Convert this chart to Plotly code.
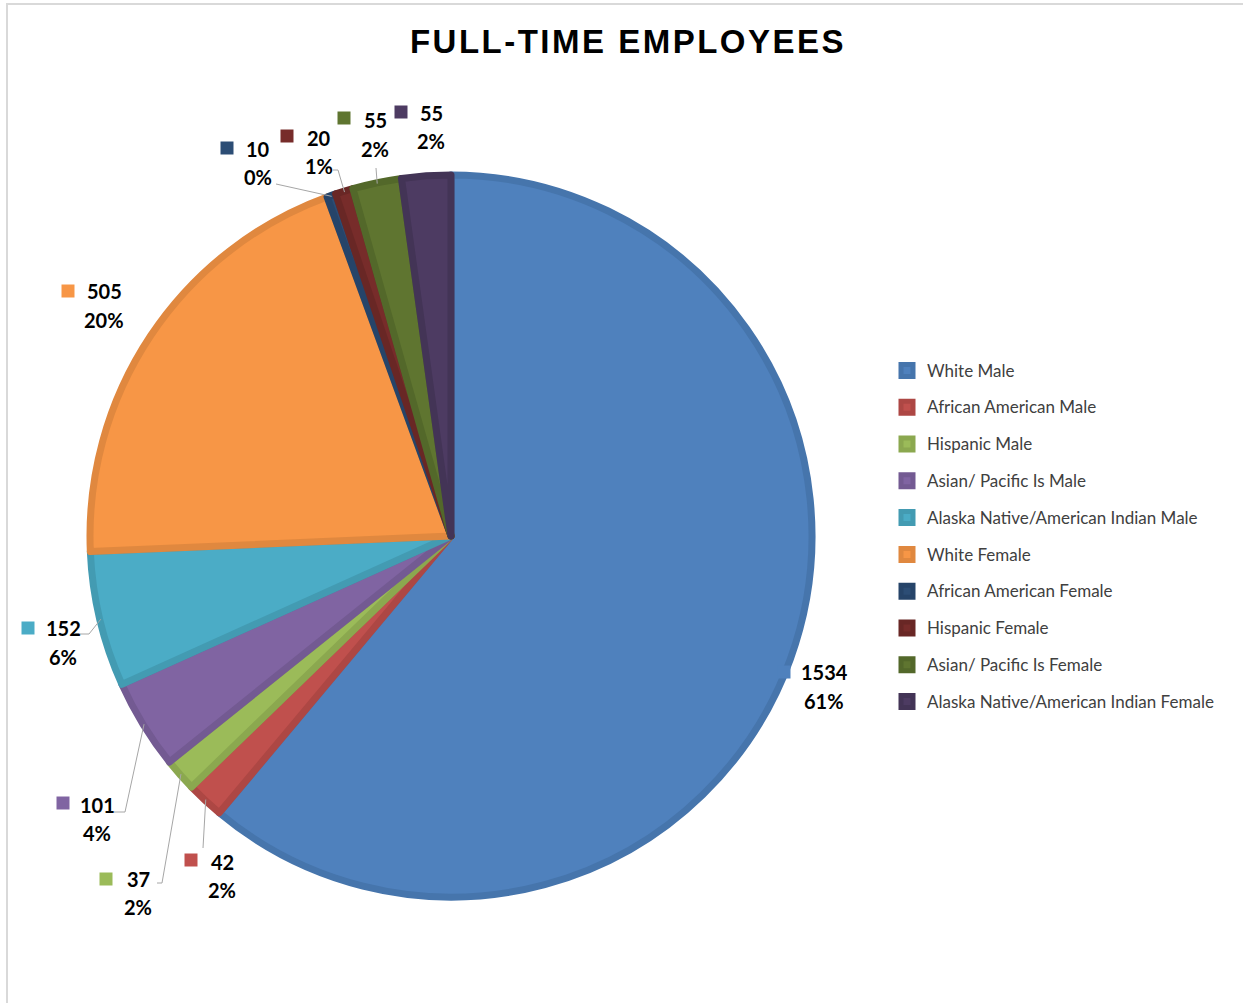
import math
import plotly.graph_objects as go

# ---- data ----
categories = ["White Male", "African American Male", "Hispanic Male", "Asian/ Pacific Is Male",
              "Alaska Native/American Indian Male", "White Female", "African American Female",
              "Hispanic Female", "Asian/ Pacific Is Female", "Alaska Native/American Indian Female"]
values = [1534, 42, 37, 101, 152, 505, 10, 20, 55, 55]
percent_labels = ["61%", "2%", "2%", "4%", "6%", "20%", "0%", "1%", "2%", "2%"]

# ---- styling ----
fills = ["#4F81BD", "#C0504D", "#9BBB59", "#8064A2", "#4BACC6",
         "#F79646", "#2C4D75", "#772C2A", "#5F7530", "#4D3B62"]
borders = ["#4675AC", "#AD4744", "#8BA84F", "#735A92", "#439BB2",
           "#E0883F", "#264469", "#692725", "#53682A", "#433456"]

W, H = 1243, 1003
CX, CY, R = 451, 536, 361          # pie centre / radius in pixels

def px(x):
    return x / W

def py(y):
    return 1 - y / H

# label layout (pixel centre of number line / percent line, marker centre, leader elbow)
num_pos = [(824, 672), (222, 862), (138, 879), (97, 805), (63, 628),
           (104, 291), (258, 149), (319, 138), (375, 120), (431, 113)]
pct_pos = [(824, 701), (222, 890), (138, 907), (97, 833), (63, 657),
           (104, 320), (258, 177), (319, 166), (375, 149), (431, 141)]
marker_pos = [(784, 672), (191, 860), (106, 879), (63, 803), (28, 628),
              (68, 291), (227, 148), (287, 136), (344, 118), (401, 112)]
leader_start = [None, (203, 848), (157, 883), (114, 812), (80, 634),
                None, (276, 184), (333, 170), (376, 168), None]
leader_elbow = [None, None, (162, 883), (125, 812), (89, 634),
                None, None, (338, 170), None, None]

fig = go.Figure()

legend_labels = [f"<span style='font-size:17px;baseline-shift:4px'>{c}</span>" for c in categories]

fig.add_trace(go.Pie(
    labels=legend_labels,
    values=values,
    sort=False,
    direction="clockwise",
    rotation=0,
    textinfo="none",
    hoverinfo="label+value+percent",
    marker=dict(colors=fills, line=dict(color=borders, width=7)),
    domain=dict(x=[px(CX - R), px(CX + R)], y=[py(CY + R), py(CY - R)]),
    showlegend=True,
))

shapes = []
annotations = []
total = sum(values)
cum = 0.0
label_font = dict(family="Lato", size=20, color="#000000")
for i, v in enumerate(values):
    mid = (cum + v / 2) / total * 2 * math.pi
    cum += v
    ex = CX + (R - 1) * math.sin(mid)
    ey = CY - (R - 1) * math.cos(mid)
    if leader_start[i] is not None:
        pts = [leader_start[i]]
        if leader_elbow[i] is not None:
            pts.append(leader_elbow[i])
        pts.append((ex, ey))
        path = "M " + " L ".join(f"{px(a)},{py(b)}" for a, b in pts)
        shapes.append(dict(type="path", path=path, xref="paper", yref="paper",
                           line=dict(color="#A6A6A6", width=1)))
    mx, my = marker_pos[i]
    shapes.append(dict(type="rect", xref="paper", yref="paper",
                       x0=px(mx - 6.5), x1=px(mx + 6.5), y0=py(my + 6.5), y1=py(my - 6.5),
                       fillcolor=fills[i], line=dict(width=0), layer="above"))
    nx, ny = num_pos[i]
    annotations.append(dict(x=px(nx), y=py(ny), xref="paper", yref="paper",
                            xanchor="center", yanchor="middle", text=f"<b>{v}</b>",
                            showarrow=False, font=label_font))
    qx, qy = pct_pos[i]
    annotations.append(dict(x=px(qx), y=py(qy), xref="paper", yref="paper",
                            xanchor="center", yanchor="middle", text=f"<b>{percent_labels[i]}</b>",
                            showarrow=False, font=label_font))

# chart frame (top and left edges visible)
shapes.append(dict(type="path", xref="paper", yref="paper",
                   path=f"M {px(7)},0 L {px(7)},{py(4)} L 1,{py(4)}",
                   line=dict(color="#D9D9D9", width=2)))

fig.update_layout(
    width=W, height=H,
    margin=dict(l=0, r=0, t=0, b=0),
    paper_bgcolor="white", plot_bgcolor="white",
    title=dict(text="<b><span style='letter-spacing:2.5px'>FULL-TIME EMPLOYEES</span></b>",
               x=px(628), y=py(41), xanchor="center", yanchor="middle",
               font=dict(family="Liberation Sans, Arial", size=33, color="#000000")),
    legend=dict(x=px(887), y=py(347), xanchor="left", yanchor="top",
                font=dict(family="Lato", size=26, color="#404040"),
                bgcolor="rgba(0,0,0,0)", borderwidth=0, traceorder="normal"),
    shapes=shapes,
    annotations=annotations,
)

fig.write_html("out.html")
